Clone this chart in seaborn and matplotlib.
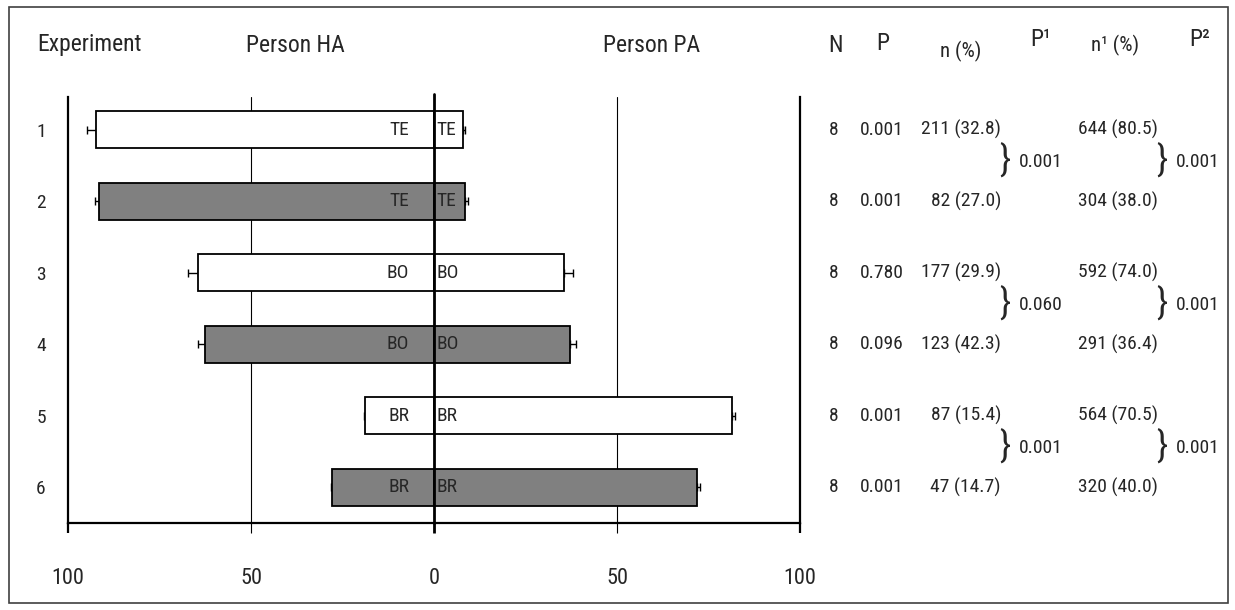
import matplotlib
matplotlib.use("Agg")
import matplotlib.pyplot as plt
from matplotlib import font_manager
from matplotlib.transforms import blended_transform_factory
from matplotlib.patches import Rectangle
import seaborn as sns
import pandas as pd
import numpy as np

# ---------------- data ----------------
experiments = ["1", "2", "3", "4", "5", "6"]
stimulus = ["TE", "TE", "BO", "BO", "BR", "BR"]
person_ha = [92.3, 91.5, 64.6, 62.5, 18.8, 27.8]      # % choosing person HA (drawn to the left)
person_pa = [7.9, 8.6, 35.5, 37.2, 81.4, 71.9]        # % choosing person PA
ha_err = [2.5, 1.2, 2.7, 2.1, 0.3, 0.4]
pa_err = [0.5, 0.6, 2.5, 1.6, 0.8, 0.8]
bar_colors = ["#ffffff", "#808080", "#ffffff", "#808080", "#ffffff", "#808080"]

xtick_values = [-100, -50, 0, 50, 100]
xtick_labels = ["100", "50", "0", "50", "100"]

col_N = ["8", "8", "8", "8", "8", "8"]
col_P = ["0.001", "0.001", "0.780", "0.096", "0.001", "0.001"]
col_n = ["211 (32.8)", "82 (27.0)", "177 (29.9)", "123 (42.3)", "87 (15.4)", "47 (14.7)"]
col_P1 = ["0.001", "0.060", "0.001"]
col_n1 = ["644 (80.5)", "304 (38.0)", "592 (74.0)", "291 (36.4)", "564 (70.5)", "320 (40.0)"]
col_P2 = ["0.001", "0.001", "0.001"]

# ---------------- style ----------------
sns.set_style("white")
avail = {f.name for f in font_manager.fontManager.ttflist}
main_font = next((f for f in ["Roboto Condensed", "PT Sans Narrow", "Archivo Narrow",
                              "Liberation Sans Narrow", "DejaVu Sans"] if f in avail), "DejaVu Sans")
plt.rcParams["font.family"] = [main_font, "DejaVu Sans"]

W, H = 1235, 610
fig = plt.figure(figsize=(W / 100, H / 100), dpi=100)
ax = fig.add_axes([68 / W, (H - 523) / H, 732 / W, 426 / H])

df = pd.DataFrame({
    "experiment": experiments,
    "ha": -np.array(person_ha),
    "pa": np.array(person_pa),
})
pal = dict(zip(experiments, bar_colors))

for col in ["ha", "pa"]:
    sns.barplot(data=df, x=col, y="experiment", hue="experiment", palette=pal,
                order=experiments, hue_order=experiments, legend=False,
                orient="h", width=0.52, edgecolor="black", linewidth=1.3,
                errorbar=None, ax=ax, zorder=3)

ypos = np.arange(len(experiments))
zeros = np.zeros(len(experiments))
ax.errorbar(df["ha"], ypos, xerr=[ha_err, zeros], fmt="none", ecolor="black",
            elinewidth=1, capsize=3, capthick=1, zorder=2)
ax.errorbar(df["pa"], ypos, xerr=[zeros, pa_err], fmt="none", ecolor="black",
            elinewidth=1, capsize=3, capthick=1, zorder=2)

# labels inside bars
for i, lab in enumerate(stimulus):
    ax.annotate(lab, xy=(0, i), xytext=(-18, 0), textcoords="offset points",
                ha="right", va="center", fontsize=14, zorder=5)
    ax.annotate(lab, xy=(0, i), xytext=(2, 0), textcoords="offset points",
                ha="left", va="center", fontsize=14, zorder=5)

# axes decoration
ax.set_xlim(-100, 100)
ax.set_ylim(5.5, -0.46)
for x in (-50, 50):
    ax.axvline(x, color="black", lw=0.8, zorder=1)
ax.axvline(0, color="black", lw=2.0, zorder=4, ymax=1.008, clip_on=False)

ax.set_xticks(xtick_values)
ax.set_xticklabels(xtick_labels)
ax.tick_params(axis="x", bottom=True, direction="out", length=7.2, pad=25,
               labelsize=16, color="black")
tick_w = [1.6, 0.8, 2.0, 0.8, 1.6]
for t, w in zip(ax.xaxis.get_major_ticks(), tick_w):
    t.tick1line.set_markeredgewidth(w)
ax.tick_params(axis="y", left=False, length=0, pad=16, labelsize=14)
ax.set_xlabel("")
ax.set_ylabel("")
for s in ["left", "right", "bottom"]:
    ax.spines[s].set_visible(True)
    ax.spines[s].set_color("black")
    ax.spines[s].set_linewidth(1.6)
ax.spines["top"].set_visible(False)

# header texts
def ftext(x, y, s, **kw):
    fig.text(x / W, 1 - y / H, s, **kw)

ftext(37, 45, "Experiment", ha="left", va="center", fontsize=17)
ftext(295, 45, "Person HA", ha="center", va="center", fontsize=17)
ftext(652, 45, "Person PA", ha="center", va="center", fontsize=17)
ftext(836, 45, "N", ha="center", va="center", fontsize=17)
ftext(883, 44, "P", ha="center", va="center", fontsize=17)
ftext(961, 51, "n (%)", ha="center", va="center", fontsize=15)
ftext(1041, 40, "P¹", ha="center", va="center", fontsize=17)
ftext(1115, 45, "n¹ (%)", ha="center", va="center", fontsize=15)
ftext(1200, 40, "P²", ha="center", va="center", fontsize=17)

# table rows (x in figure, y in data rows)
tr = blended_transform_factory(fig.transFigure, ax.transData)
fs = 14
for i in range(len(experiments)):
    ax.text(834 / W, i, col_N[i], transform=tr, ha="center", va="center", fontsize=fs)
    ax.text(882 / W, i, col_P[i], transform=tr, ha="center", va="center", fontsize=fs)
    ax.text(1001 / W, i, col_n[i], transform=tr, ha="right", va="center", fontsize=fs)
    ax.text(1158 / W, i, col_n1[i], transform=tr, ha="right", va="center", fontsize=fs)
for k in range(3):
    ymid = 2 * k + 0.5 - 0.05
    ax.text(1005 / W, ymid, "}", transform=tr, ha="center", va="center", fontsize=26)
    ax.text(1041 / W, ymid, col_P1[k], transform=tr, ha="center", va="center", fontsize=fs)
    ax.text(1162 / W, ymid, "}", transform=tr, ha="center", va="center", fontsize=26)
    ax.text(1198 / W, ymid, col_P2[k], transform=tr, ha="center", va="center", fontsize=fs)

# outer frame
fig.patches.append(Rectangle((9 / W, 7 / H), (1228 - 9) / W, (603 - 7) / H,
                             transform=fig.transFigure, fill=False,
                             edgecolor="#404040", lw=1.2))

fig.savefig("out.png", dpi=100, facecolor="white")
